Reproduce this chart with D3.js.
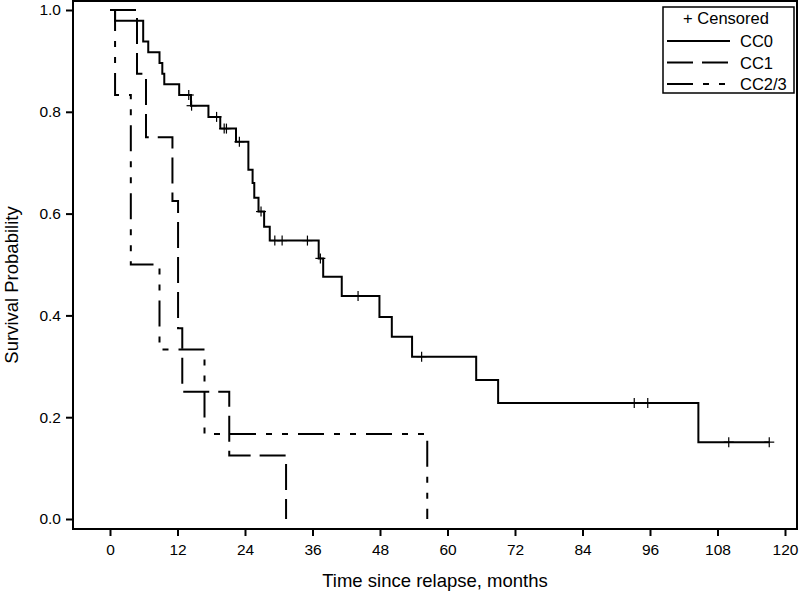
<!DOCTYPE html>
<html>
<head>
<meta charset="utf-8">
<script src="https://cdn.jsdelivr.net/npm/d3@7"></script>
<style>
  html, body { margin: 0; padding: 0; background: #fff; }
  svg { display: block; font-family: "Liberation Sans", Arial, sans-serif; }
</style>
</head>
<body>
<svg id="chart" width="800" height="595"></svg>
<script>
// ---- data ----
const xTicks = [0, 12, 24, 36, 48, 60, 72, 84, 96, 108, 120];
const yTicks = [0.0, 0.2, 0.4, 0.6, 0.8, 1.0];

const cc0Times = [0, 0.9, 5.9, 6.8, 8.8, 9.3, 9.65, 12.3, 14.4, 17.5, 19.6, 22.4, 24.6, 25.35, 25.65, 26.4, 27.4, 28.4, 37.1, 37.9, 41.2, 47.9, 50.1, 53.7, 65.1, 69.0, 104.6, 117.2];
const cc0Surv  = [1.0, 0.979, 0.938, 0.917, 0.896, 0.875, 0.854, 0.833, 0.812, 0.790, 0.767, 0.741, 0.686, 0.660, 0.631, 0.604, 0.574, 0.547, 0.512, 0.476, 0.438, 0.397, 0.358, 0.319, 0.273, 0.228, 0.151, 0.151];
const cc0CensorTimes = [14.0, 14.5, 18.95, 20.3, 20.7, 23.0, 26.85, 29.3, 30.6, 35.1, 37.4, 44.1, 55.4, 93.2, 95.6, 110.0, 117.2];
const cc0CensorSurv  = [0.833, 0.812, 0.790, 0.767, 0.767, 0.741, 0.604, 0.547, 0.547, 0.547, 0.512, 0.438, 0.319, 0.228, 0.228, 0.151, 0.151];

const cc1Times = [0, 4.8, 6.4, 11.1, 12.1, 12.85, 21.2, 31.3];
const cc1Surv  = [1.0, 0.875, 0.75, 0.625, 0.375, 0.25, 0.125, 0.0];

const cc23Times = [0, 0.9, 3.7, 8.8, 16.8, 56.4];
const cc23Surv  = [1.0, 0.833, 0.5, 0.333, 0.167, 0.0];

const legendLabels = ["CC0", "CC1", "CC2/3"];

// ---- layout ----
const svg = d3.select("#chart");
const frame = { left: 73, right: 797, top: 1, bottom: 529 };

const x = d3.scaleLinear().domain([0, 120]).range([110, 785]);
const y = d3.scaleLinear().domain([0, 1]).range([519, 10]);

const styles = {
  CC0:   { dash: null },
  CC1:   { dash: "26,9" },
  "CC2/3": { dash: "26,10,6,10,6,10" }
};

// frame
svg.append("rect")
  .attr("x", frame.left).attr("y", frame.top)
  .attr("width", frame.right - frame.left).attr("height", frame.bottom - frame.top)
  .attr("fill", "none").attr("stroke", "#000").attr("stroke-width", 2);

// axes
const xAxis = svg.append("g")
  .attr("transform", `translate(0,${frame.bottom})`)
  .call(d3.axisBottom(x).tickValues(xTicks).tickSize(7).tickSizeOuter(0).tickPadding(8));
xAxis.select(".domain").remove();
xAxis.selectAll(".tick line").attr("stroke-width", 2);
xAxis.selectAll(".tick text").attr("font-size", 15.5).attr("font-family", "Liberation Sans, Arial, sans-serif").attr("fill", "#000");

const yAxis = svg.append("g")
  .attr("transform", `translate(${frame.left},0)`)
  .call(d3.axisLeft(y).tickValues(yTicks).tickSize(7).tickSizeOuter(0).tickPadding(5).tickFormat(d3.format(".1f")));
yAxis.select(".domain").remove();
yAxis.selectAll(".tick line").attr("stroke-width", 2);
yAxis.selectAll(".tick text").attr("font-size", 15.5).attr("font-family", "Liberation Sans, Arial, sans-serif").attr("fill", "#000");

// axis titles
svg.append("text")
  .attr("x", 435).attr("y", 587)
  .attr("text-anchor", "middle").attr("font-size", 18.5)
  .text("Time since relapse, months");
svg.append("text")
  .attr("transform", `translate(18,${(frame.top + frame.bottom) / 2 + 20}) rotate(-90)`)
  .attr("text-anchor", "middle").attr("font-size", 18.5)
  .text("Survival Probability");

// curves
const line = d3.line().x(d => x(d[0])).y(d => y(d[1])).curve(d3.curveStepAfter);
const curves = [
  { name: "CC0", times: cc0Times, surv: cc0Surv },
  { name: "CC1", times: cc1Times, surv: cc1Surv },
  { name: "CC2/3", times: cc23Times, surv: cc23Surv }
];
curves.forEach(c => {
  const pts = c.times.map((t, i) => [t, c.surv[i]]);
  svg.append("path")
    .attr("d", line(pts))
    .attr("fill", "none").attr("stroke", "#000").attr("stroke-width", 2)
    .attr("stroke-dasharray", styles[c.name].dash);
});

// censor marks
const cens = cc0CensorTimes.map((t, i) => [t, cc0CensorSurv[i]]);
const cg = svg.append("g");
cens.forEach(([t, s]) => {
  const cx = x(t), cy = y(s);
  cg.append("line").attr("x1", cx).attr("x2", cx).attr("y1", cy - 5).attr("y2", cy + 5).attr("stroke", "#000").attr("stroke-width", 1.2);
  cg.append("line").attr("x1", cx - 5).attr("x2", cx + 5).attr("y1", cy).attr("y2", cy).attr("stroke", "#000").attr("stroke-width", 1.2);
});

// legend
const lg = svg.append("g");
lg.append("rect").attr("x", 663).attr("y", 7).attr("width", 131).attr("height", 86)
  .attr("fill", "#fff").attr("stroke", "#000").attr("stroke-width", 1.5);
lg.append("text").attr("x", 726).attr("y", 24).attr("text-anchor", "middle").attr("font-size", 16.5).text("+ Censored");
legendLabels.forEach((lab, i) => {
  const yy = 41 + i * 21.5;
  lg.append("line").attr("x1", 667).attr("x2", 730).attr("y1", yy).attr("y2", yy)
    .attr("stroke", "#000").attr("stroke-width", 2).attr("stroke-dasharray", styles[lab].dash);
  lg.append("text").attr("x", 740).attr("y", yy + 6).attr("font-size", 16.5).text(lab);
});
</script>
</body>
</html>
